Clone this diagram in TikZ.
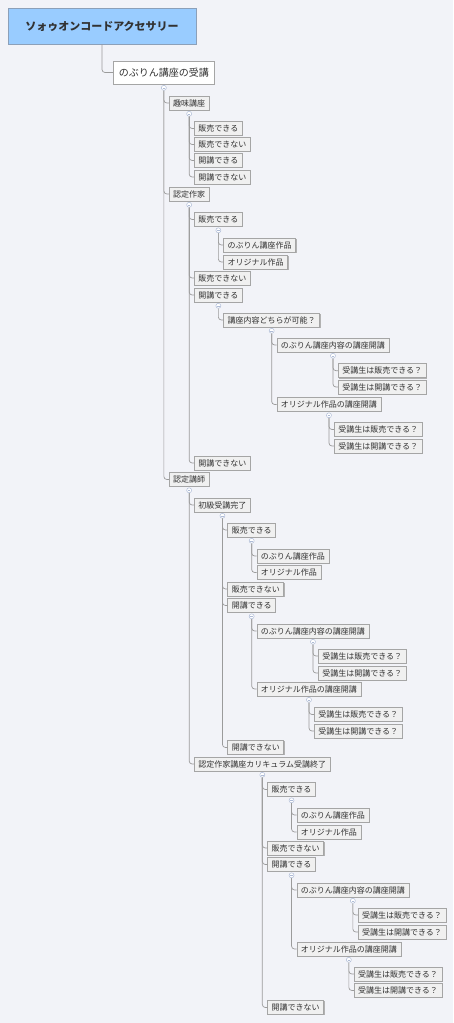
\documentclass[tikz,border=0pt]{standalone}
\usepackage{fontspec}
\setmainfont{Noto Sans CJK JP}
\usetikzlibrary{calc,shadows}
\definecolor{bg}{RGB}{242,243,248}
\definecolor{nodefill}{RGB}{240,240,240}
\definecolor{nodeborder}{RGB}{165,165,165}
\definecolor{linec}{RGB}{155,155,155}
\definecolor{rootfill}{RGB}{153,204,255}
\definecolor{rootborder}{RGB}{140,160,185}
\definecolor{circc}{RGB}{175,188,215}
\definecolor{txt}{RGB}{50,50,50}
\newcommand\cmk[1]{%
  \node[cmark] (#1c0) at ([yshift=-3.5pt]#1.south) {};
  \draw[draw=circc, line width=0.5pt] ([xshift=-1.2pt]#1c0.center) -- ([xshift=1.2pt]#1c0.center);
  \coordinate (#1c) at (#1c0.south);}
\newcommand\kid[4]{%
  \path (#2.south) ++(5,0) coordinate (#1tmp);
  \node[box] (#1) at (#1tmp |- 0,-#3) {#4};
  \draw[conn] (#2c) |- (#1.west);}
\begin{document}
\begin{tikzpicture}[x=1pt,y=1pt,
  box/.style={draw=nodeborder, fill=nodefill, font=\fontsize{8}{9}\selectfont, text=txt,
    inner xsep=4pt, inner ysep=0pt, minimum height=14pt, anchor=west, line width=0.6pt,
    drop shadow={shadow xshift=0.9pt, shadow yshift=-0.9pt, fill=black!30, opacity=1}},
  conn/.style={draw=linec, line width=0.7pt, rounded corners=3pt},
  cmark/.style={circle, draw=circc, fill=white, inner sep=0pt, minimum size=5pt, line width=0.5pt},
]
\fill[bg] (0,0) rectangle (453,-1023);
\useasboundingbox (0,0) rectangle (453,-1023);

\node[draw=rootborder, fill=rootfill, line width=0.8pt, minimum width=188pt, minimum height=36pt,
  font=\fontsize{11}{13}\selectfont\bfseries, text=txt] (root) at (102,-26) {ソォゥオンコードアクセサリー};
\node[draw=nodeborder, fill=white, line width=0.7pt, minimum height=23pt, inner xsep=5.5pt, inner ysep=0pt,
  anchor=west, font=\fontsize{10}{12}\selectfont, text=txt] (l1) at (113,-72.5) {のぶりん講座の受講};
\draw[conn] (root.south) |- (l1.west);
\cmk{l1}

% level 2
\kid{a1}{l1}{103}{趣味講座}
\kid{a2}{l1}{194}{認定作家}
\kid{a3}{l1}{479.5}{認定講師}

% 趣味講座
\cmk{a1}
\kid{a11}{a1}{128.5}{販売できる}
\kid{a12}{a1}{144.5}{販売できない}
\kid{a13}{a1}{160.5}{開講できる}
\kid{a14}{a1}{177}{開講できない}

% 認定作家
\cmk{a2}
\kid{b1}{a2}{219.5}{販売できる}
\kid{b2}{a2}{278}{販売できない}
\kid{b3}{a2}{295}{開講できる}
\kid{b4}{a2}{463}{開講できない}
\cmk{b1}
\kid{b11}{b1}{245}{のぶりん講座作品}
\kid{b12}{b1}{262}{オリジナル作品}
\cmk{b3}
\kid{c1}{b3}{320}{講座内容どちらが可能？}
\cmk{c1}
\kid{d1}{c1}{345}{のぶりん講座内容の講座開講}
\kid{d2}{c1}{404.5}{オリジナル作品の講座開講}
\cmk{d1}
\kid{d11}{d1}{370.7}{受講生は販売できる？}
\kid{d12}{d1}{387}{受講生は開講できる？}
\cmk{d2}
\kid{d21}{d2}{429.5}{受講生は販売できる？}
\kid{d22}{d2}{446}{受講生は開講できる？}

% 認定講師
\cmk{a3}
\kid{e1}{a3}{505}{初級受講完了}
\kid{e2}{a3}{764}{認定作家講座カリキュラム受講終了}
\cmk{e1}
\kid{f1}{e1}{530}{販売できる}
\kid{f2}{e1}{589}{販売できない}
\kid{f3}{e1}{605.5}{開講できる}
\kid{f4}{e1}{747.5}{開講できない}
\cmk{f1}
\kid{f11}{f1}{556}{のぶりん講座作品}
\kid{f12}{f1}{572.5}{オリジナル作品}
\cmk{f3}
\kid{g1}{f3}{631}{のぶりん講座内容の講座開講}
\kid{g2}{f3}{689}{オリジナル作品の講座開講}
\cmk{g1}
\kid{g11}{g1}{656}{受講生は販売できる？}
\kid{g12}{g1}{673}{受講生は開講できる？}
\cmk{g2}
\kid{g21}{g2}{714.5}{受講生は販売できる？}
\kid{g22}{g2}{731}{受講生は開講できる？}

\cmk{e2}
\kid{h1}{e2}{789.5}{販売できる}
\kid{h2}{e2}{848}{販売できない}
\kid{h3}{e2}{864.5}{開講できる}
\kid{h4}{e2}{1007.5}{開講できない}
\cmk{h1}
\kid{h11}{h1}{815}{のぶりん講座作品}
\kid{h12}{h1}{832}{オリジナル作品}
\cmk{h3}
\kid{i1}{h3}{890}{のぶりん講座内容の講座開講}
\kid{i2}{h3}{949}{オリジナル作品の講座開講}
\cmk{i1}
\kid{i11}{i1}{915}{受講生は販売できる？}
\kid{i12}{i1}{932}{受講生は開講できる？}
\cmk{i2}
\kid{i21}{i2}{974}{受講生は販売できる？}
\kid{i22}{i2}{990.5}{受講生は開講できる？}
\end{tikzpicture}
\end{document}
